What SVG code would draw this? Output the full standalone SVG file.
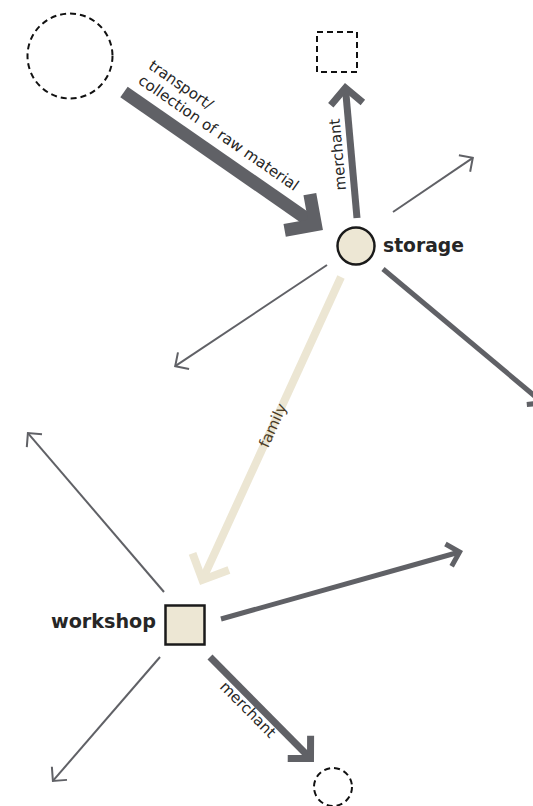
<svg xmlns="http://www.w3.org/2000/svg" width="533" height="806" viewBox="0 0 533 806">
<style>
.c{fill:none;stroke:#606166;stroke-linecap:butt}
.t2{stroke-width:2}
.t5{stroke-width:5}
.t7{stroke-width:7}
.t13{stroke-width:13}
.fam{fill:none;stroke:#ece6d3;stroke-width:8}
.dash{fill:none;stroke:#111;stroke-width:2;stroke-dasharray:6 4}
.node{fill:#ede7d4;stroke:#1a1a1a;stroke-width:2.5}
.lbl{font-family:"DejaVu Sans",sans-serif;font-size:15px;fill:#262626}
.flbl{font-family:"DejaVu Sans",sans-serif;font-size:15px;fill:#4a3b25}
.nlbl{font-family:"DejaVu Sans",sans-serif;font-weight:bold;font-size:19px;fill:#262626}
</style>
<defs>
<marker id="ah-big" markerUnits="strokeWidth" orient="auto" markerWidth="1" markerHeight="1" style="overflow:visible">
<path d="M-1.7,-1.7 L0,0 L-1.7,1.7" fill="none" stroke="#606166" stroke-width="1" stroke-linejoin="miter"/>
</marker>
<marker id="ah-mid" markerUnits="strokeWidth" orient="auto" markerWidth="1" markerHeight="1" style="overflow:visible">
<path d="M-2.3,-2.3 L0,0 L-2.3,2.3" fill="none" stroke="#606166" stroke-width="1" stroke-linejoin="miter"/>
</marker>
<marker id="ah-thin" markerUnits="strokeWidth" orient="auto" markerWidth="1" markerHeight="1" style="overflow:visible">
<path d="M-5,-5 L0,0 L-5,5" fill="none" stroke="#606166" stroke-width="1" stroke-linejoin="miter"/>
</marker>
<marker id="ah-fam" markerUnits="strokeWidth" orient="auto" markerWidth="1" markerHeight="1" style="overflow:visible">
<path d="M-2.5,-2.5 L0,0 L-2.5,2.5" fill="none" stroke="#ece6d3" stroke-width="1" stroke-linejoin="miter"/>
</marker>
</defs>
<g id="connectors">
<path class="c t13" d="M124,92 L315.4,224.8" marker-end="url(#ah-big)"/>
<path class="c t7" d="M357,218 L345.4,87.9" marker-end="url(#ah-mid)"/>
<path class="c t2" d="M393,212 L472.8,157.8" marker-end="url(#ah-thin)"/>
<path class="c t5" d="M383,269 L543,403" marker-end="url(#ah-mid)"/>
<path class="c t2" d="M327,265 L175.2,366.2" marker-end="url(#ah-thin)"/>
<path class="fam" d="M341,277 L202.4,579.9" marker-end="url(#ah-fam)"/>
<path class="c t2" d="M164,592 L27.9,433.1" marker-end="url(#ah-thin)"/>
<path class="c t5" d="M221,619 L459.6,552" marker-end="url(#ah-mid)"/>
<path class="c t2" d="M160,657 L52.9,780.9" marker-end="url(#ah-thin)"/>
<path class="c t7" d="M210,657 L310.5,758.5" marker-end="url(#ah-mid)"/>
<text class="lbl" transform="translate(147.6,67.9) rotate(34.7)">transport/</text>
<text class="lbl" transform="translate(137.3,82.7) rotate(34.7)">collection of raw material</text>
<text class="lbl" transform="translate(346,190) rotate(-95.1)">merchant</text>
<text class="lbl" transform="translate(219,687.4) rotate(45.3)">merchant</text>
<text class="flbl" text-anchor="middle" transform="translate(273,425.5) rotate(-65.6)" y="5">family</text>
</g>
<g id="node-source">
<circle class="dash" cx="70" cy="56" r="42.5"/>
</g>
<g id="node-market">
<rect class="dash" x="317" y="32" width="40" height="40"/>
</g>
<g id="node-storage">
<circle class="node" cx="356" cy="246" r="18.5" stroke-width="2"/>
<text class="nlbl" x="383" y="252" textLength="81" lengthAdjust="spacingAndGlyphs">storage</text>
</g>
<g id="node-workshop">
<rect class="node" x="165.5" y="605.5" width="39" height="39"/>
<text class="nlbl" x="51" y="628" textLength="105" lengthAdjust="spacingAndGlyphs">workshop</text>
</g>
<g id="node-customer">
<circle class="dash" cx="333" cy="787" r="19"/>
</g>
</svg>
